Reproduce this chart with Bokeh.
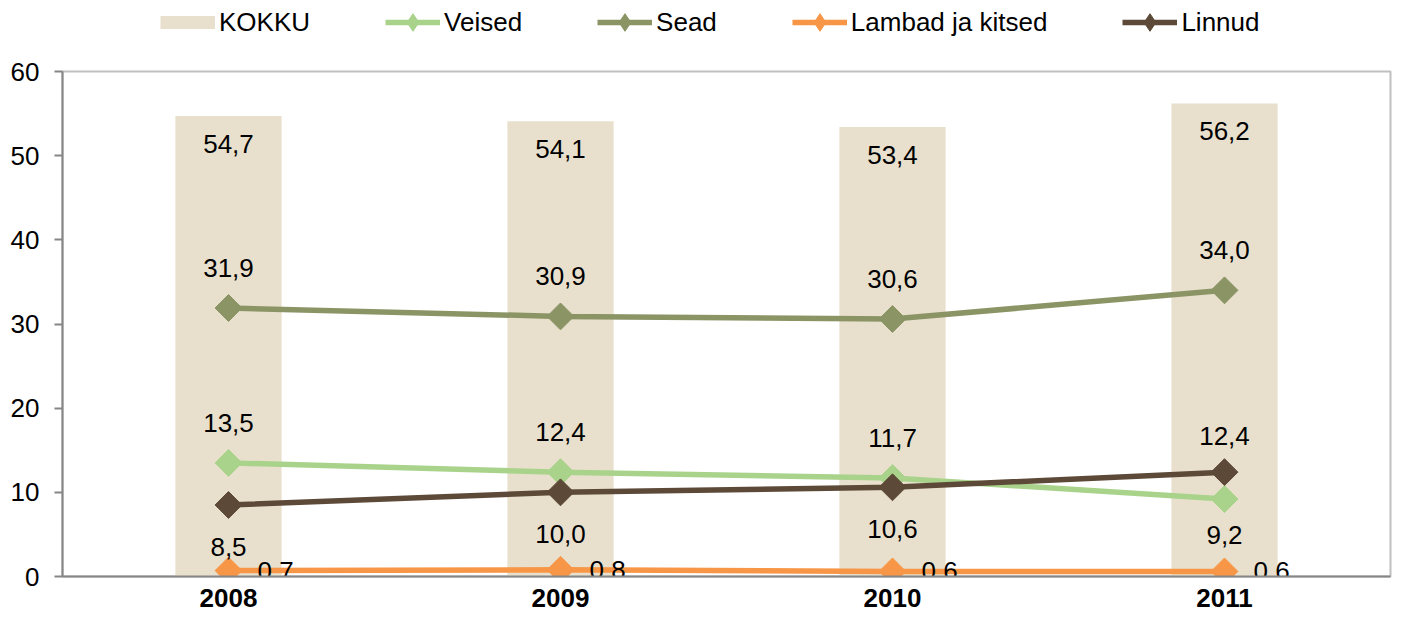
import numpy as np
from bokeh.plotting import figure
from bokeh.layouts import column
from bokeh.models import (ColumnDataSource, FactorRange, Range1d, FixedTicker,
                          Legend, LegendItem)
from bokeh.core.properties import value
from bokeh.embed import file_html
from bokeh.resources import INLINE

# ---- data ----
years = ["2008", "2009", "2010", "2011"]
kokku = [54.7, 54.1, 53.4, 56.2]
veised = [13.5, 12.4, 11.7, 9.2]
sead = [31.9, 30.9, 30.6, 34.0]
lambad = [0.7, 0.8, 0.6, 0.6]
linnud = [8.5, 10.0, 10.6, 12.4]
y_ticks = [0, 10, 20, 30, 40, 50, 60]
series_names = ["KOKKU", "Veised", "Sead", "Lambad ja kitsed", "Linnud"]

# ---- styles ----
FONT = "Liberation Sans"
FS = "26px"
C_BAR = "#E8E0CD"
C_VEISED = "#A9D38B"
C_SEAD = "#8A9464"
C_LAMBAD = "#F79646"
C_LINNUD = "#5D4937"
LW = 5.5

# label offsets (screen px, + = down)
off_veised = [-40, -40, -40, 36]
off_linnud = [42, 42, 42, -36]
off_sead = [-40, -40, -40, -40]

W = 1392
LH = 50          # legend strip height
H = 614 - LH     # main figure height
BL, BR, BT, BB = 62, 2, 21, 38


def fmt(v):
    return f"{v:.1f}".replace(".", ",")


# ================= main chart =================
p = figure(x_range=FactorRange(*years), y_range=Range1d(0, 60),
           width=W, height=H, output_backend="svg", toolbar_location=None,
           min_border_left=BL, min_border_right=BR, min_border_bottom=BB,
           min_border_top=BT)
p.xgrid.visible = False
p.ygrid.visible = False
p.background_fill_color = "white"
p.border_fill_color = "white"
p.outline_line_color = "#C0C0C0"
p.outline_line_width = 2

bsrc = ColumnDataSource(dict(x=years, top=kokku, lab=[fmt(v) for v in kokku]))
p.vbar(x="x", top="top", width=0.32, source=bsrc, fill_color=C_BAR, line_color=None)


def series(vals, color, offs, xoff=0):
    src = ColumnDataSource(dict(x=years, y=vals, lab=[fmt(v) for v in vals],
                                off=offs, xoff=[xoff] * len(vals)))
    p.line(x="x", y="y", source=src, line_color=color, line_width=LW)
    p.scatter(x="x", y="y", source=src, marker="square", angle=np.pi / 4,
              size=19, fill_color=color, line_color=color)
    return src


s_ve = series(veised, C_VEISED, off_veised)
s_se = series(sead, C_SEAD, off_sead)
s_la = series(lambad, C_LAMBAD, [0, 0, 0, 0], xoff=29)
s_li = series(linnud, C_LINNUD, off_linnud)

# data labels
p.text(x="x", y="top", text="lab", source=bsrc, y_offset=28,
       text_align="center", text_baseline="middle",
       text_font=value(FONT), text_font_size=FS, text_color="black")
for src in (s_ve, s_se, s_li):
    p.text(x="x", y="y", text="lab", source=src, y_offset="off",
           text_align="center", text_baseline="middle",
           text_font=value(FONT), text_font_size=FS, text_color="black")
p.text(x="x", y="y", text="lab", source=s_la, x_offset="xoff",
       text_align="left", text_baseline="middle",
       text_font=value(FONT), text_font_size=FS, text_color="black")

# axes
p.yaxis.ticker = FixedTicker(ticks=y_ticks)
p.yaxis.minor_tick_line_color = None
p.yaxis.major_tick_out = 8
p.yaxis.major_tick_in = 0
p.yaxis.major_tick_line_color = "#868686"
p.yaxis.major_tick_line_width = 2
p.yaxis.axis_line_color = "#868686"
p.yaxis.axis_line_width = 2
p.yaxis.major_label_standoff = 15
p.yaxis.major_label_text_font = FONT
p.yaxis.major_label_text_font_size = FS
p.yaxis.major_label_text_color = "black"

p.xaxis.major_tick_line_color = None
p.xaxis.minor_tick_line_color = None
p.xaxis.axis_line_color = "#868686"
p.xaxis.axis_line_width = 2
p.xaxis.major_label_standoff = 6
p.xaxis.major_label_text_font = FONT
p.xaxis.major_label_text_font_size = FS
p.xaxis.major_label_text_font_style = "bold"
p.xaxis.major_label_text_color = "black"

# ================= legend strip =================
GH = 44
lg = figure(width=W, height=LH, x_range=Range1d(0, 1), y_range=Range1d(0, 1),
            output_backend="svg", toolbar_location=None,
            min_border_left=0, min_border_right=0, min_border_top=0, min_border_bottom=0)
lg.axis.visible = False
lg.grid.visible = False
lg.outline_line_color = None
lg.border_fill_color = "white"

nan4 = [float("nan")] * 4
xs4 = [0.5] * 4
k_px = lg.line(x=xs4, y=nan4, line_color=C_BAR, line_width=13, line_cap="butt")
items = [LegendItem(label=series_names[0], renderers=[k_px])]
for name, color in zip(series_names[1:], [C_VEISED, C_SEAD, C_LAMBAD, C_LINNUD]):
    l_px = lg.line(x=xs4, y=nan4, line_color=color, line_width=LW)
    m_px = lg.scatter(x=xs4, y=nan4, marker="diamond", size=18,
                      fill_color=color, line_color=color)
    items.append(LegendItem(label=name, renderers=[l_px, m_px]))

# the column aligns this strip's frame with the chart frame (left edge at BL)
legend = Legend(items=items, orientation="horizontal",
                location=(160 - BL, LH - GH),
                glyph_width=55, glyph_height=GH, label_standoff=4, spacing=75,
                padding=0, margin=0, border_line_color=None, background_fill_alpha=0,
                label_text_font=FONT, label_text_font_size=FS, label_text_color="black")
lg.add_layout(legend, "center")

open("out.html", "w").write(file_html(column(lg, p, spacing=0), INLINE))
